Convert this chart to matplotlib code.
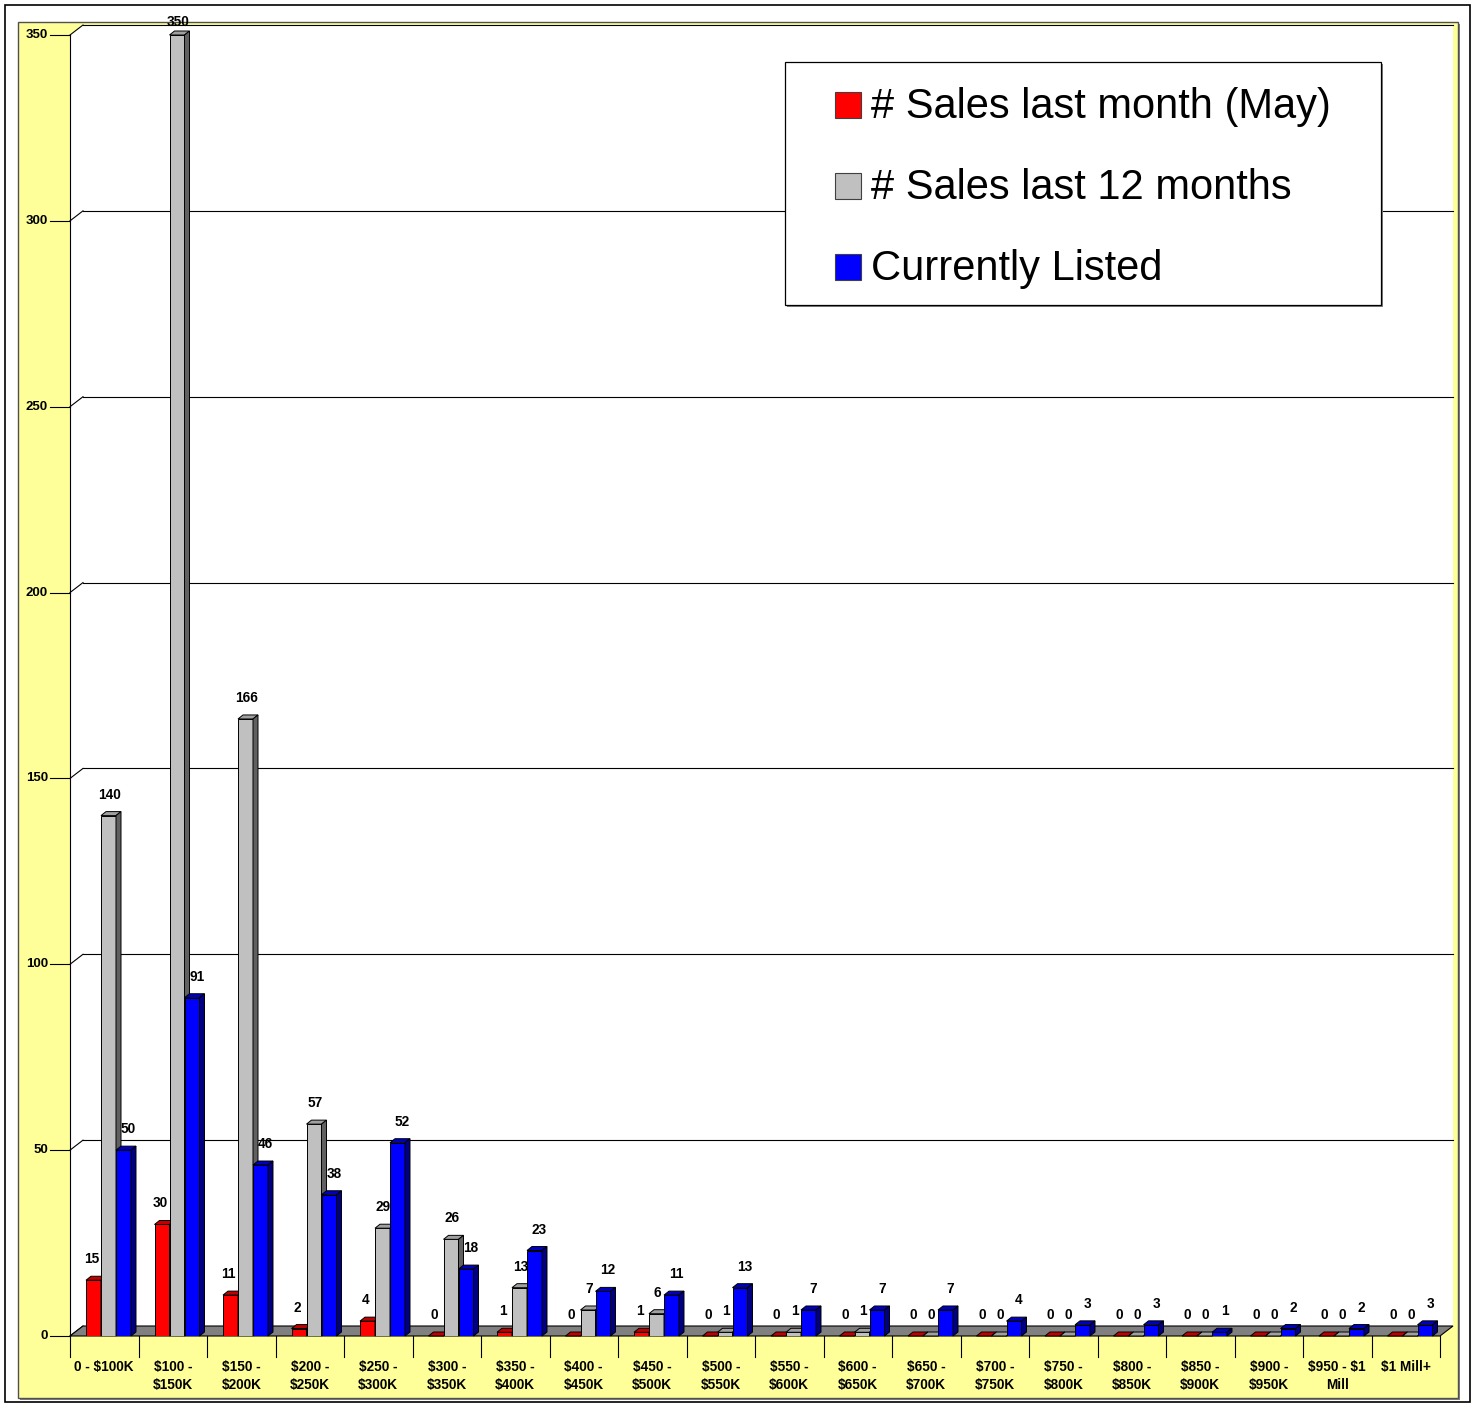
import matplotlib
matplotlib.use("Agg")
import matplotlib.pyplot as plt
from matplotlib.patches import Polygon, Rectangle

plt.rcParams['font.family'] = ['Liberation Sans', 'DejaVu Sans']

# data
categories = ["0 - $100K", "$100 -\n$150K", "$150 -\n$200K", "$200 -\n$250K",
              "$250 -\n$300K", "$300 -\n$350K", "$350 -\n$400K", "$400 -\n$450K",
              "$450 -\n$500K", "$500 -\n$550K", "$550 -\n$600K", "$600 -\n$650K",
              "$650 -\n$700K", "$700 -\n$750K", "$750 -\n$800K", "$800 -\n$850K",
              "$850 -\n$900K", "$900 -\n$950K", "$950 - $1\nMill", "$1 Mill+"]
sales_may = [15, 30, 11, 2, 4, 0, 1, 0, 1, 0, 0, 0, 0, 0, 0, 0, 0, 0, 0, 0]
sales_12m = [140, 350, 166, 57, 29, 26, 13, 7, 6, 1, 1, 1, 0, 0, 0, 0, 0, 0, 0, 0]
listed = [50, 91, 46, 38, 52, 18, 23, 12, 11, 13, 7, 7, 7, 4, 3, 3, 1, 2, 2, 3]
series_names = ["# Sales last month (May)", "# Sales last 12 months", "Currently Listed"]
yticks = [0, 50, 100, 150, 200, 250, 300, 350]

front_cols = ['#FF0000', '#C0C0C0', '#0000FF']
top_cols = ['#C00000', '#A0A0A0', '#0000C0']
side_cols = ['#800000', '#606060', '#000080']
label_shift = [-2, 1, 5]   # px, value labels per series

W, H = 1477, 1405
fig = plt.figure(figsize=(W / 100, H / 100), dpi=100)

# pixel layout of the front plane
X0, X1, Y0, Y1 = 70, 1440, 1336, 35
n = len(categories)
ux = (X1 - X0) / n          # px per category
uy = (Y0 - Y1) / 350.0      # px per unit value


def px(v):
    return v / ux


def py(v):
    return v / uy


# background: outer frame + yellow chart area
bg = fig.add_axes([0, 0, 1, 1], zorder=0)
bg.set_xlim(0, W)
bg.set_ylim(H, 0)
bg.axis('off')
bg.add_patch(Rectangle((5, 5), 1465, 1397, facecolor='white', edgecolor='black', lw=1.2))
bg.add_patch(Rectangle((20, 24), 1440, 1376, facecolor='#808080', edgecolor='none'))
bg.add_patch(Rectangle((18, 22), 1440, 1376, facecolor='#FFFF99', edgecolor='#505050', lw=1.0))

ax = fig.add_axes([X0 / W, (H - Y0) / H, (X1 - X0) / W, (Y0 - Y1) / H], zorder=1)
ax.set_xlim(-0.5, n - 0.5)
ax.set_ylim(0, 350)
ax.axis('off')
ax.patch.set_alpha(0)

ddx, ddy = px(13), py(10)   # floor depth
left, right = -0.5, n - 0.5

# white plot walls
ax.add_patch(Polygon([(left, 0), (left, 350), (left + ddx, 350 + ddy), (right + ddx, 350 + ddy),
                      (right + ddx, ddy), (right, 0)], closed=True, facecolor='white',
                     edgecolor='none', clip_on=False, zorder=0))

# gridlines on back wall and y axis
for v in yticks:
    if v > 0:
        ax.plot([left + ddx, right + ddx], [v + ddy, v + ddy], color='black', lw=0.8,
                clip_on=False, zorder=1)
    ax.plot([left, left + ddx], [v, v + ddy], color='black', lw=0.8, clip_on=False, zorder=1)
    ax.plot([left - px(20), left], [v, v], color='black', lw=0.8, clip_on=False, zorder=1)
    ax.text(left - px(22), v, str(v), ha='right', va='center', fontsize=9.5,
            fontweight='bold', clip_on=False)
ax.plot([left, left], [0, 350], color='black', lw=0.8, clip_on=False, zorder=1)

# floor
ax.add_patch(Polygon([(left, 0), (left + ddx, ddy), (right + ddx, ddy), (right, 0)], closed=True,
                     facecolor='#808080', edgecolor='black', lw=0.8, clip_on=False, zorder=2))

# category separators and labels
for k in range(n + 1):
    ax.plot([left + k, left + k], [0, -py(21)], color='black', lw=0.8, clip_on=False)
for i, lab in enumerate(categories):
    ax.text(i, -py(24), lab, ha='center', va='top', fontsize=9.8, fontweight='bold',
            linespacing=1.35, parse_math=False, clip_on=False)

# 3D-ish bars
bw = px(15)
start = -0.5 + px(16)
bdx, bdy = px(5), py(4)
data = [sales_may, sales_12m, listed]
z = 3
for i in range(n):
    for k in range(3):
        v = data[k][i]
        x0 = i + start + k * bw  # left edge of front face
        ax.bar(x0, v, width=bw, align='edge', color=front_cols[k], edgecolor='black',
               lw=0.7, zorder=z)
        ax.add_patch(Polygon([(x0, v), (x0 + bw, v), (x0 + bw + bdx, v + bdy), (x0 + bdx, v + bdy)],
                             closed=True, facecolor=top_cols[k], edgecolor='black', lw=0.7,
                             zorder=z, clip_on=False))
        ax.add_patch(Polygon([(x0 + bw, 0), (x0 + bw + bdx, bdy), (x0 + bw + bdx, v + bdy), (x0 + bw, v)],
                             closed=True, facecolor=side_cols[k], edgecolor='black', lw=0.7,
                             zorder=z, clip_on=False))
        # keep labels inside the chart area
        ly = min(v + py(21), 350 + py(13))
        ax.text(x0 + bw / 2 + px(label_shift[k]), ly, str(v), ha='center', va='center',
                fontsize=9.8, fontweight='bold', zorder=20, clip_on=False)
        z += 1

# legend box
lg = fig.add_axes([0, 0, 1, 1], zorder=5)
lg.set_xlim(0, W)
lg.set_ylim(H, 0)
lg.axis('off')
lg.patch.set_alpha(0)
lg.add_patch(Rectangle((787, 64), 596, 243, facecolor='#808080', edgecolor='none'))
lg.add_patch(Rectangle((785, 62), 596, 243, facecolor='white', edgecolor='black', lw=0.9))
for k, name in enumerate(series_names):
    base = 118 + 81 * k
    lg.add_patch(Rectangle((835, base - 26), 26, 26, facecolor=front_cols[k], edgecolor='#404040', lw=0.8))
    lg.text(871, base, name, ha='left', va='baseline', fontsize=30)

fig.savefig("out.png", dpi=100)
